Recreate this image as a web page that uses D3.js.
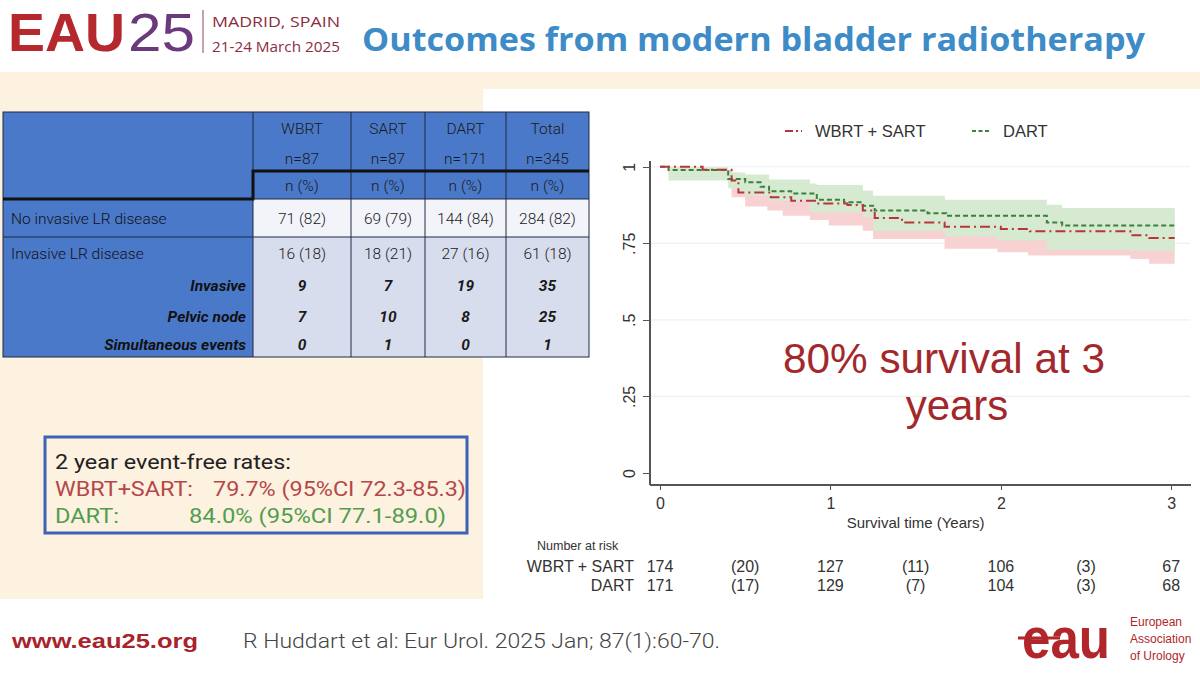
<!DOCTYPE html>
<html lang="en">
<head>
  <meta charset="UTF-8">
  <title>Outcomes from modern bladder radiotherapy</title>
  <script src="https://d3js.org/d3.v7.min.js"></script>
  <style>
    body { margin: 0; background: #fff; }
    svg { display: block; }
    .axis path, .axis line { fill: none; shape-rendering: crispEdges; }
  </style>
</head>
<body>
  <script>
    // ---- table data ----
    const colHeads = ["WBRT", "SART", "DART", "Total"];
    const colNs = ["n=87", "n=87", "n=171", "n=345"];
    const noInvasive = ["71 (82)", "69 (79)", "144 (84)", "284 (82)"];
    const invasiveLR = ["16 (18)", "18 (21)", "27 (16)", "61 (18)"];
    const invasive = [9, 7, 19, 35];
    const pelvicNode = [7, 10, 8, 25];
    const simultaneous = [0, 1, 0, 1];

    // ---- Kaplan-Meier estimates (years, survival) ----
    const wbrtSart = [[0, 1], [0.25, 0.99], [0.42, 0.955], [0.46, 0.916], [0.65, 0.90], [0.77, 0.889],
      [0.92, 0.880], [1.10, 0.875], [1.19, 0.857], [1.26, 0.833], [1.42, 0.818], [1.67, 0.804],
      [2.00, 0.797], [2.17, 0.789], [2.76, 0.776], [2.87, 0.767], [3.02, 0.767]];
    const dart = [[0, 1], [0.05, 0.989], [0.40, 0.96], [0.50, 0.949], [0.59, 0.935], [0.64, 0.92],
      [0.77, 0.913], [0.92, 0.892], [1.08, 0.884], [1.19, 0.873], [1.26, 0.857], [1.57, 0.848],
      [1.68, 0.840], [2.27, 0.818], [2.36, 0.808], [3.02, 0.808]];
    // confidence bands: [t, lower, upper]
    const wbrtSartCI = [[0, 1, 1], [0.05, 0.975, 0.998], [0.25, 0.965, 0.99], [0.42, 0.90, 0.98],
      [0.50, 0.87, 0.96], [0.63, 0.857, 0.945], [0.72, 0.84, 0.94], [0.88, 0.826, 0.935],
      [0.99, 0.808, 0.93], [1.19, 0.791, 0.915], [1.25, 0.764, 0.90], [1.67, 0.732, 0.885],
      [1.98, 0.721, 0.875], [2.16, 0.71, 0.865], [2.76, 0.699, 0.855], [2.87, 0.683, 0.845],
      [3.02, 0.683, 0.845]];
    const dartCI = [[0, 1, 1], [0.05, 0.955, 0.998], [0.40, 0.93, 0.982], [0.46, 0.916, 0.98],
      [0.50, 0.905, 0.975], [0.64, 0.889, 0.958], [0.88, 0.851, 0.945], [0.92, 0.851, 0.94],
      [1.19, 0.835, 0.922], [1.25, 0.791, 0.905], [1.67, 0.772, 0.892], [1.98, 0.759, 0.892],
      [2.27, 0.729, 0.876], [2.36, 0.729, 0.865], [2.76, 0.726, 0.865], [3.02, 0.726, 0.865]];

    const yTicks = [0, 0.25, 0.5, 0.75, 1];
    const yTickLabels = ["0", ".25", ".5", ".75", "1"];
    const xTicks = [0, 1, 2, 3];

    // ---- number at risk ----
    const riskTimes = [0, 0.5, 1, 1.5, 2, 2.5, 3];
    const riskWbrtSart = ["174", "(20)", "127", "(11)", "106", "(3)", "67"];
    const riskDart = ["171", "(17)", "129", "(7)", "104", "(3)", "68"];

    const red = "#b8363a", green = "#3d803d";

    const svg = d3.select("body").append("svg")
      .attr("width", 1200).attr("height", 675);

    // backgrounds
    svg.append("rect").attr("x", 0).attr("y", 72).attr("width", 1200).attr("height", 527).attr("fill", "#fdf1df");
    svg.append("rect").attr("x", 483).attr("y", 89).attr("width", 717).attr("height", 510).attr("fill", "#ffffff");

    // ---- header ----
    svg.append("text").attr("x", 8).attr("y", 51).text("EAU")
      .attr("font-family", "Liberation Sans").attr("font-weight", "bold").attr("font-size", 54)
      .attr("fill", "#b5282e").attr("textLength", 117).attr("lengthAdjust", "spacingAndGlyphs");
    svg.append("text").attr("x", 128).attr("y", 51).text("25")
      .attr("font-family", "Liberation Sans").attr("font-size", 54)
      .attr("fill", "#6a3a7c").attr("textLength", 67).attr("lengthAdjust", "spacingAndGlyphs");
    svg.append("line").attr("x1", 203).attr("x2", 203).attr("y1", 10).attr("y2", 53)
      .attr("stroke", "#8a4a55").attr("stroke-width", 1);
    svg.append("text").attr("x", 212).attr("y", 27).text("MADRID, SPAIN")
      .attr("font-family", "Open Sans").attr("font-size", 15).attr("fill", "#8a2d40")
      .attr("textLength", 128).attr("lengthAdjust", "spacingAndGlyphs");
    svg.append("text").attr("x", 212).attr("y", 52).text("21-24 March 2025")
      .attr("font-family", "Open Sans").attr("font-size", 15).attr("fill", "#8a2d40")
      .attr("textLength", 128).attr("lengthAdjust", "spacingAndGlyphs");
    svg.append("text").attr("x", 362).attr("y", 51).text("Outcomes from modern bladder radiotherapy")
      .attr("font-family", "Open Sans").attr("font-weight", "bold").attr("font-size", 32)
      .attr("fill", "#3d8bc7").attr("textLength", 783).attr("lengthAdjust", "spacingAndGlyphs");

    // ---- table ----
    const colEdges = [3, 253, 351, 425, 506, 589];
    const rowEdges = [112, 145, 171, 199, 237, 270, 301, 332, 357];
    const tbl = svg.append("g");
    const blue = "#4b79c9";
    tbl.append("rect").attr("x", colEdges[0]).attr("y", rowEdges[0])
      .attr("width", colEdges[5] - colEdges[0]).attr("height", rowEdges[8] - rowEdges[0]).attr("fill", blue);
    tbl.append("rect").attr("x", colEdges[1]).attr("y", rowEdges[3])
      .attr("width", colEdges[5] - colEdges[1]).attr("height", rowEdges[4] - rowEdges[3]).attr("fill", "#f3f4fa");
    tbl.append("rect").attr("x", colEdges[1]).attr("y", rowEdges[4])
      .attr("width", colEdges[5] - colEdges[1]).attr("height", rowEdges[8] - rowEdges[4]).attr("fill", "#d8ddee");
    // grid lines
    colEdges.slice(1, 5).forEach(x => {
      tbl.append("line").attr("x1", x).attr("x2", x).attr("y1", rowEdges[0]).attr("y2", rowEdges[8])
        .attr("stroke", "#1f2a44").attr("stroke-width", 1);
    });
    tbl.append("line").attr("x1", colEdges[0]).attr("x2", colEdges[5]).attr("y1", rowEdges[4]).attr("y2", rowEdges[4])
      .attr("stroke", "#1f2a44").attr("stroke-width", 1);
    tbl.append("rect").attr("x", colEdges[0]).attr("y", rowEdges[0])
      .attr("width", colEdges[5] - colEdges[0]).attr("height", rowEdges[8] - rowEdges[0])
      .attr("fill", "none").attr("stroke", "#1f2a44").attr("stroke-width", 1);
    // thick lines
    tbl.append("path")
      .attr("d", `M${colEdges[5]},${rowEdges[2]}H${colEdges[1]}V${rowEdges[3]}H${colEdges[0]}`)
      .attr("fill", "none").attr("stroke", "#111").attr("stroke-width", 3);
    tbl.append("line").attr("x1", colEdges[1]).attr("x2", colEdges[5]).attr("y1", rowEdges[3]).attr("y2", rowEdges[3])
      .attr("stroke", "#1f2a44").attr("stroke-width", 1);

    const colMid = i => (colEdges[i + 1] + colEdges[i + 2]) / 2;
    const rowMid = i => (rowEdges[i] + rowEdges[i + 1]) / 2;
    function cellRow(vals, r, italic) {
      tbl.selectAll(null).data(vals).enter().append("text")
        .attr("x", (d, i) => colMid(i)).attr("y", rowMid(r)).attr("dy", "0.36em")
        .attr("text-anchor", "middle").attr("font-family", "Roboto").attr("font-size", 15.5)
        .attr("font-weight", italic ? "bold" : "300").attr("font-style", italic ? "italic" : "normal")
        .attr("fill", "#1a1a1a").text(d => d);
    }
    cellRow(colHeads, 0, false);
    cellRow(colNs, 1, false);
    cellRow(colHeads.map(() => "n (%)"), 2, false);
    cellRow(noInvasive, 3, false);
    cellRow(invasiveLR, 4, false);
    cellRow(invasive, 5, true);
    cellRow(pelvicNode, 6, true);
    cellRow(simultaneous, 7, true);
    const rowLabels = [
      { t: "No invasive LR disease", r: 3, sub: false },
      { t: "Invasive LR disease", r: 4, sub: false },
      { t: "Invasive", r: 5, sub: true },
      { t: "Pelvic node", r: 6, sub: true },
      { t: "Simultaneous events", r: 7, sub: true }
    ];
    tbl.selectAll(null).data(rowLabels).enter().append("text")
      .attr("x", d => d.sub ? colEdges[1] - 7 : colEdges[0] + 8)
      .attr("y", d => rowMid(d.r)).attr("dy", "0.36em")
      .attr("text-anchor", d => d.sub ? "end" : "start")
      .attr("font-family", "Roboto").attr("font-size", 15.5)
      .attr("font-weight", d => d.sub ? "bold" : "300")
      .attr("font-style", d => d.sub ? "italic" : "normal")
      .attr("fill", "#111").text(d => d.t);

    // ---- event-free box ----
    svg.append("rect").attr("x", 45).attr("y", 437).attr("width", 422).attr("height", 96)
      .attr("fill", "none").attr("stroke", "#3d62b8").attr("stroke-width", 3);
    function boxText(x, y, t, c, w) {
      svg.append("text").attr("x", x).attr("y", y).text(t).attr("fill", c)
        .attr("font-family", "Roboto").attr("font-size", 20)
        .attr("textLength", w).attr("lengthAdjust", "spacingAndGlyphs");
    }
    boxText(55, 469, "2 year event-free rates:", "#222", 236);
    boxText(55, 496, "WBRT+SART:", "#b5474a", 138);
    boxText(213, 496, "79.7% (95%CI 72.3-85.3)", "#b5474a", 253);
    boxText(55, 523, "DART:", "#4f9e4f", 64);
    boxText(189, 523, "84.0% (95%CI 77.1-89.0)", "#4f9e4f", 257);

    // ---- KM chart ----
    const x = d3.scaleLinear().domain([-0.0646, 3.11]).range([649, 1190]);
    const y = d3.scaleLinear().domain([-0.036, 1.022]).range([484, 160]);

    // gridlines
    svg.append("g").selectAll("line").data(yTicks.slice(1)).enter().append("line")
      .attr("x1", x.range()[0] + 2).attr("x2", x.range()[1])
      .attr("y1", d => y(d)).attr("y2", d => y(d))
      .attr("stroke", "#eceff1").attr("stroke-width", 1.2);

    const band = d3.area().curve(d3.curveStepAfter)
      .x(d => x(d[0])).y0(d => y(d[1])).y1(d => y(d[2]));
    svg.append("path").datum(wbrtSartCI).attr("d", band).attr("fill", "#f8d2d3");
    svg.append("path").datum(dartCI).attr("d", band).attr("fill", "#d5ead1");

    const line = d3.line().curve(d3.curveStepAfter).x(d => x(d[0])).y(d => y(d[1]));
    svg.append("path").datum(dart).attr("d", line).attr("fill", "none")
      .attr("stroke", green).attr("stroke-width", 2).attr("stroke-dasharray", "5,3");
    svg.append("path").datum(wbrtSart).attr("d", line).attr("fill", "none")
      .attr("stroke", red).attr("stroke-width", 2).attr("stroke-dasharray", "10,4,2,4");

    // axes
    const yAxis = svg.append("g").attr("class", "axis").attr("transform", `translate(${x.range()[0]},0)`)
      .call(d3.axisLeft(y).tickValues(yTicks).tickFormat((d, i) => yTickLabels[i]).tickSize(6).tickSizeOuter(0));
    yAxis.select(".domain").attr("stroke", "#555").attr("stroke-width", 2);
    yAxis.selectAll(".tick line").attr("stroke", "#555");
    yAxis.selectAll(".tick text").attr("transform", "rotate(-90)")
      .attr("x", 0).attr("y", -14).attr("dy", 0).attr("text-anchor", "middle")
      .attr("font-family", "Liberation Sans").attr("font-size", 16).attr("fill", "#333");

    const xAxis = svg.append("g").attr("class", "axis").attr("transform", `translate(0,${y.range()[0]})`)
      .call(d3.axisBottom(x).tickValues(xTicks).tickFormat(d3.format("d")).tickSize(6).tickSizeOuter(0));
    xAxis.select(".domain").attr("stroke", "#555").attr("stroke-width", 2);
    xAxis.selectAll(".tick line").attr("stroke", "#555");
    xAxis.selectAll(".tick text").attr("y", 14)
      .attr("font-family", "Liberation Sans").attr("font-size", 16).attr("fill", "#333");

    svg.append("text").attr("x", x(1.5)).attr("y", 528).attr("text-anchor", "middle")
      .attr("font-family", "Liberation Sans").attr("font-size", 15).attr("fill", "#333")
      .text("Survival time (Years)");

    // legend
    const legend = [
      { name: "WBRT + SART", color: red, dash: "8,3,2,3", x: 785, w: 17 },
      { name: "DART", color: green, dash: "4,2.5", x: 972, w: 18 }
    ];
    const lg = svg.selectAll(".legend").data(legend).enter().append("g");
    lg.append("line").attr("x1", d => d.x).attr("x2", d => d.x + d.w).attr("y1", 131).attr("y2", 131)
      .attr("stroke", d => d.color).attr("stroke-width", 2).attr("stroke-dasharray", d => d.dash);
    lg.append("text").attr("x", d => d.x + d.w + 13).attr("y", 131).attr("dy", "0.36em")
      .attr("font-family", "Liberation Sans").attr("font-size", 16.5).attr("fill", "#333").text(d => d.name);

    // annotation
    svg.append("text").attr("x", 944).attr("y", 373).attr("text-anchor", "middle")
      .attr("font-family", "Liberation Sans").attr("font-size", 42).attr("fill", "#a3282c")
      .attr("textLength", 322).attr("lengthAdjust", "spacingAndGlyphs").text("80% survival at 3");
    svg.append("text").attr("x", 957).attr("y", 420).attr("text-anchor", "middle")
      .attr("font-family", "Liberation Sans").attr("font-size", 42).attr("fill", "#a3282c").text("years");

    // number at risk
    svg.append("text").attr("x", 537).attr("y", 550).attr("font-family", "Liberation Sans")
      .attr("font-size", 12.5).attr("fill", "#333").text("Number at risk");
    const riskRows = [{ name: "WBRT + SART", vals: riskWbrtSart, y: 566 }, { name: "DART", vals: riskDart, y: 585 }];
    riskRows.forEach(r => {
      svg.append("text").attr("x", 634).attr("y", r.y).attr("dy", "0.36em").attr("text-anchor", "end")
        .attr("font-family", "Liberation Sans").attr("font-size", 16).attr("fill", "#333").text(r.name);
      svg.selectAll(null).data(r.vals).enter().append("text")
        .attr("x", (d, i) => x(riskTimes[i])).attr("y", r.y).attr("dy", "0.36em").attr("text-anchor", "middle")
        .attr("font-family", "Liberation Sans").attr("font-size", 16).attr("fill", "#333").text(d => d);
    });

    // ---- footer ----
    svg.append("text").attr("x", 12).attr("y", 648).text("www.eau25.org")
      .attr("font-family", "Liberation Sans").attr("font-weight", "bold").attr("font-size", 21)
      .attr("fill", "#a8232a").attr("textLength", 186).attr("lengthAdjust", "spacingAndGlyphs");
    svg.append("text").attr("x", 243).attr("y", 648).text("R Huddart et al: Eur Urol. 2025 Jan; 87(1):60-70.")
      .attr("font-family", "Roboto").attr("font-weight", "300").attr("font-size", 20).attr("fill", "#444")
      .attr("textLength", 477).attr("lengthAdjust", "spacingAndGlyphs");
    svg.append("text").attr("x", 1022).attr("y", 658).text("eau")
      .attr("font-family", "Liberation Sans").attr("font-weight", "bold").attr("font-size", 58)
      .attr("fill", "#b1262b").attr("textLength", 88).attr("lengthAdjust", "spacingAndGlyphs");
    svg.append("line").attr("x1", 1018).attr("x2", 1060).attr("y1", 638).attr("y2", 638)
      .attr("stroke", "#b1262b").attr("stroke-width", 3);
    ["European", "Association", "of Urology"].forEach((t, i) => {
      svg.append("text").attr("x", 1130).attr("y", 626 + i * 17).text(t)
        .attr("font-family", "Liberation Sans").attr("font-size", 12).attr("fill", "#b1262b");
    });
  </script>
</body>
</html>
